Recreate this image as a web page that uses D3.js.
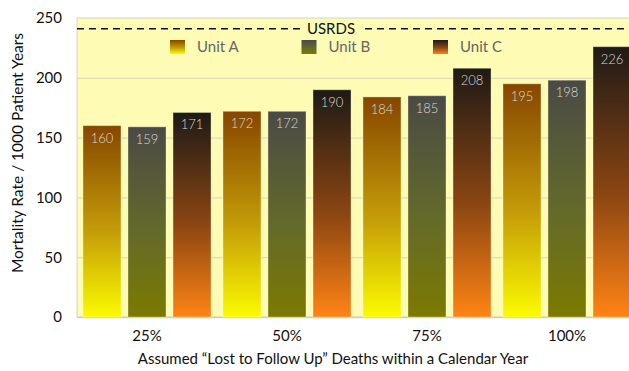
<!DOCTYPE html>
<html>
<head>
<meta charset="utf-8">
<script src="https://cdn.jsdelivr.net/npm/d3@7"></script>
<style>
  html, body { margin: 0; padding: 0; background: #fff; }
  svg { display: block; }
  text { font-family: Lato, "Open Sans", sans-serif; }
</style>
</head>
<body>
<svg id="chart" width="629" height="371"></svg>
<script>
// Mortality rate per 1000 patient years under different assumptions
const categories = ["25%", "50%", "75%", "100%"];
const units = ["Unit A", "Unit B", "Unit C"];
const unitA = [160, 172, 184, 195];
const unitB = [159, 172, 185, 198];
const unitC = [171, 190, 208, 226];
const usrds = 241;
const yTicks = [0, 50, 100, 150, 200, 250];

const series = [unitA, unitB, unitC];

// top colour -> middle -> bottom colour for each unit
const gradients = [
  ["#864600", "#c49c08", "#fbfb00"],
  ["#4a4a46", "#636a2a", "#7c7a00"],
  ["#1e1a16", "#8c4612", "#ff8414"]
];

const svg = d3.select("#chart");
const plot = { left: 77, right: 637, top: 18, bottom: 317 };

const defs = svg.append("defs");
gradients.forEach((g, i) => {
  const lg = defs.append("linearGradient")
    .attr("id", "grad" + i)
    .attr("x1", 0).attr("y1", 0).attr("x2", 0).attr("y2", 1);
  lg.append("stop").attr("offset", "0%").attr("stop-color", g[0]);
  lg.append("stop").attr("offset", "55%").attr("stop-color", g[1]);
  lg.append("stop").attr("offset", "100%").attr("stop-color", g[2]);
});

const x0 = d3.scaleBand().domain(categories).range([plot.left, plot.right]);
const x1 = d3.scaleBand().domain(units).range([0, x0.bandwidth()])
  .paddingInner(0.156).paddingOuter(0.133);
const y = d3.scaleLinear().domain([0, 250]).range([plot.bottom, plot.top]);

// plot background
svg.append("rect")
  .attr("x", plot.left).attr("y", plot.top)
  .attr("width", plot.right - plot.left).attr("height", plot.bottom - plot.top)
  .attr("fill", "#fdfbb4")
  .attr("stroke", "#d6d6c4").attr("stroke-width", 1);

// gridlines
svg.append("g")
  .selectAll("line")
  .data(yTicks.filter(t => t > 0 && t < 250))
  .join("line")
  .attr("x1", plot.left).attr("x2", plot.right)
  .attr("y1", d => y(d) + 0.5).attr("y2", d => y(d) + 0.5)
  .attr("stroke", "#e0dcb8").attr("stroke-width", 1.2);

// y axis
const yAxis = svg.append("g")
  .attr("transform", `translate(${plot.left},0)`)
  .call(d3.axisLeft(y).tickValues(yTicks).tickSize(0).tickPadding(15));
yAxis.select(".domain").remove();
yAxis.selectAll("text").attr("font-size", 15).attr("fill", "#111")
  .attr("font-family", "Lato, sans-serif");

// x axis
const xAxis = svg.append("g")
  .attr("transform", `translate(0,${plot.bottom})`)
  .call(d3.axisBottom(x0).tickSize(0).tickPadding(13));
xAxis.select(".domain").attr("stroke", "#cfcfc0").attr("stroke-width", 1.5);
xAxis.selectAll("text").attr("font-size", 15).attr("fill", "#111")
  .attr("font-family", "Lato, sans-serif");

// bars
const groups = svg.append("g")
  .selectAll("g")
  .data(categories)
  .join("g")
  .attr("transform", d => `translate(${x0(d)},0)`);

groups.selectAll("rect")
  .data((d, ci) => series.map((s, si) => ({ unit: units[si], si, value: s[ci] })))
  .join("rect")
  .attr("x", d => x1(d.unit))
  .attr("y", d => y(d.value))
  .attr("width", x1.bandwidth())
  .attr("height", d => y(0) - y(d.value))
  .attr("fill", d => `url(#grad${d.si})`)
  .attr("stroke", "rgba(255,255,220,0.35)")
  .attr("stroke-width", 1);

groups.selectAll("text.val")
  .data((d, ci) => series.map((s, si) => ({ unit: units[si], si, value: s[ci] })))
  .join("text")
  .attr("class", "val")
  .attr("x", d => x1(d.unit) + x1.bandwidth() / 2)
  .attr("y", d => y(d.value) + 17)
  .attr("text-anchor", "middle")
  .attr("font-size", 13)
  .attr("font-weight", 300)
  .attr("fill", "#dcd8d0")
  .text(d => d.value);

// USRDS reference line
const yRef = y(usrds);
svg.append("line")
  .attr("x1", plot.left).attr("x2", plot.right)
  .attr("y1", yRef).attr("y2", yRef)
  .attr("stroke", "#111").attr("stroke-width", 1.6)
  .attr("stroke-dasharray", "7,5");
svg.append("rect")
  .attr("x", 302).attr("y", yRef - 8)
  .attr("width", 58).attr("height", 16)
  .attr("fill", "#fdfbb4");
svg.append("text")
  .attr("x", 331).attr("y", yRef + 5)
  .attr("text-anchor", "middle")
  .attr("font-size", 15)
  .attr("fill", "#111")
  .text("USRDS");

// legend
const legend = svg.append("g")
  .selectAll("g")
  .data(units)
  .join("g")
  .attr("transform", (d, i) => `translate(${170 + i * 131.5},40)`);
legend.append("rect")
  .attr("width", 15).attr("height", 14)
  .attr("fill", (d, i) => `url(#grad${i})`);
legend.append("text")
  .attr("x", 27).attr("y", 12)
  .attr("font-size", 15)
  .attr("fill", "#666")
  .text(d => d);

// axis titles
svg.append("text")
  .attr("transform", `translate(23,153) rotate(-90)`)
  .attr("text-anchor", "middle")
  .attr("font-size", 15.5)
  .attr("fill", "#111")
  .text("Mortality Rate / 1000 Patient Years");

svg.append("text")
  .attr("x", 333).attr("y", 364)
  .attr("text-anchor", "middle")
  .attr("font-size", 15)
  .attr("fill", "#111")
  .text("Assumed \u201CLost to Follow Up\u201D Deaths within a Calendar Year");
</script>
</body>
</html>
